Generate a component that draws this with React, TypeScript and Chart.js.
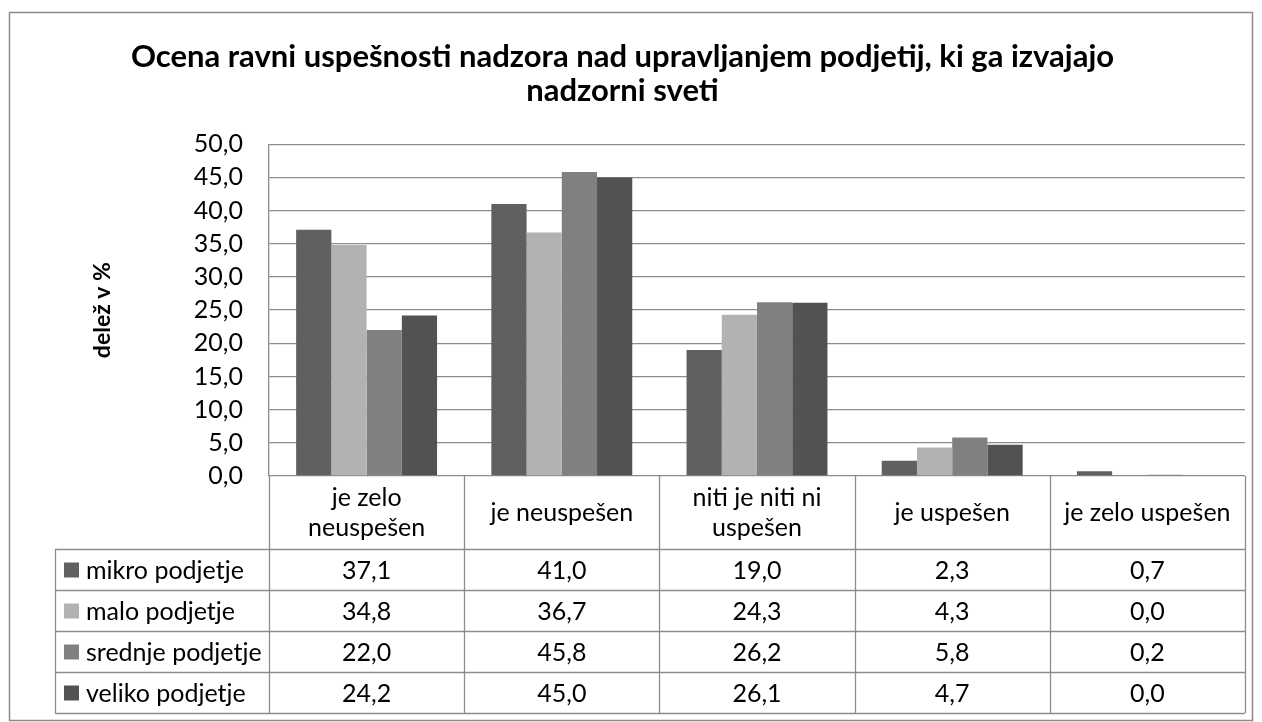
import React, { useEffect, useRef } from "react";
import { Chart, registerables } from "chart.js";

Chart.register(...registerables);

const TITLE_LINES = [
  "Ocena ravni uspešnosti nadzora nad upravljanjem podjetij, ki ga izvajajo",
  "nadzorni sveti",
];
const Y_TITLE = "delež v %";
const CATEGORIES: (string | string[])[] = [
  ["je zelo", "neuspešen"],
  "je neuspešen",
  ["niti je niti ni", "uspešen"],
  "je uspešen",
  "je zelo uspešen",
];
const SERIES_NAMES = ["mikro podjetje", "malo podjetje", "srednje podjetje", "veliko podjetje"];
const MIKRO = [37.1, 41.0, 19.0, 2.3, 0.7];
const MALO = [34.8, 36.7, 24.3, 4.3, 0.0];
const SREDNJE = [22.0, 45.8, 26.2, 5.8, 0.2];
const VELIKO = [24.2, 45.0, 26.1, 4.7, 0.0];
const SERIES_COLORS = ["#606060", "#b2b2b2", "#808080", "#525252"];
const Y_MIN = 0;
const Y_MAX = 50;
const Y_STEP = 5;

const FONT = "Lato, 'Open Sans', sans-serif";
const LINE = "#8c8c8c";

const fmt = (v: number) => v.toFixed(1).replace(".", ",");

const framePlugin = {
  id: "frame",
  beforeDraw(chart: any) {
    const { ctx, width, height } = chart;
    ctx.save();
    ctx.fillStyle = "#ffffff";
    ctx.fillRect(0, 0, width, height);
    ctx.strokeStyle = "#8a8a8a";
    ctx.lineWidth = 1.5;
    ctx.strokeRect(9.5, 12.5, width - 19, height - 14);
    ctx.restore();
  },
};

const tablePlugin = {
  id: "dataTable",
  afterDraw(chart: any) {
    const { ctx, chartArea } = chart;
    const xs = chart.scales.x;
    const n = CATEGORIES.length;
    const colW = (chartArea.right - chartArea.left) / n;
    const top = chartArea.bottom;
    const catBottom = top + 73;
    const rowH = 41;
    const legendLeft = 55;
    const rows = chart.data.datasets.length;
    const bottom = catBottom + rows * rowH;

    ctx.save();
    ctx.strokeStyle = LINE;
    ctx.lineWidth = 1.3;
    for (let i = 0; i <= n; i++) {
      const x = Math.round(xs.getPixelForValue(0) - colW / 2 + i * colW) + 0.5;
      ctx.beginPath();
      ctx.moveTo(x, top);
      ctx.lineTo(x, bottom);
      ctx.stroke();
    }
    ctx.beginPath();
    ctx.moveTo(legendLeft + 0.5, catBottom);
    ctx.lineTo(legendLeft + 0.5, bottom);
    ctx.stroke();
    for (let r = 0; r <= rows; r++) {
      const y = Math.round(catBottom + r * rowH) + 0.5;
      ctx.beginPath();
      ctx.moveTo(legendLeft, y);
      ctx.lineTo(chartArea.right, y);
      ctx.stroke();
    }

    ctx.fillStyle = "#000000";
    ctx.font = `25px ${FONT}`;
    ctx.textAlign = "center";
    ctx.textBaseline = "middle";
    for (let i = 0; i < n; i++) {
      const cx = xs.getPixelForValue(i);
      const lab = CATEGORIES[i];
      const lines = Array.isArray(lab) ? lab : [lab];
      const lh = 30;
      const cy = (top + catBottom) / 2;
      lines.forEach((t, k) => {
        ctx.fillText(t, cx, cy + (k - (lines.length - 1) / 2) * lh);
      });
    }
    chart.data.datasets.forEach((ds: any, r: number) => {
      const cy = catBottom + r * rowH + rowH / 2 + 1;
      ctx.textAlign = "center";
      ctx.fillStyle = "#000000";
      ds.data.forEach((v: number, i: number) => {
        ctx.fillText(fmt(v), xs.getPixelForValue(i), cy);
      });
      ctx.fillStyle = ds.backgroundColor;
      ctx.fillRect(legendLeft + 9, cy - 8, 15, 15);
      ctx.fillStyle = "#000000";
      ctx.textAlign = "left";
      ctx.fillText(ds.label, legendLeft + 31, cy);
    });
    ctx.restore();
  },
};

export default function App() {
  const ref = useRef<HTMLCanvasElement | null>(null);
  useEffect(() => {
    if (!ref.current) return;
    const data = [MIKRO, MALO, SREDNJE, VELIKO];
    const chart = new Chart(ref.current, {
      type: "bar",
      data: {
        labels: CATEGORIES.map((c) => (Array.isArray(c) ? c.join(" ") : c)),
        datasets: SERIES_NAMES.map((name, i) => ({
          label: name,
          data: data[i],
          backgroundColor: SERIES_COLORS[i],
          borderWidth: 0,
          barPercentage: 1,
          categoryPercentage: 0.722,
        })),
      },
      options: {
        animation: false,
        responsive: false,
        devicePixelRatio: 1,
        layout: { padding: { left: 0, right: 17, top: 0, bottom: 246 } },
        plugins: {
          legend: { display: false },
          tooltip: { enabled: false },
          title: {
            display: true,
            text: TITLE_LINES,
            color: "#000000",
            font: { family: FONT, size: 31, weight: "bold", lineHeight: 1.1 },
            padding: { top: 40, bottom: 36 },
          },
        },
        scales: {
          x: { display: false },
          y: {
            min: Y_MIN,
            max: Y_MAX,
            afterFit: (s: any) => {
              s.width = 269;
            },
            ticks: {
              stepSize: Y_STEP,
              padding: 26,
              color: "#000000",
              font: { family: FONT, size: 25 },
              callback: (v: any) => fmt(Number(v)),
            },
            grid: { color: LINE, lineWidth: 1.3, drawTicks: false },
            border: { display: true, color: LINE, width: 1.3 },
            title: {
              display: true,
              text: Y_TITLE,
              color: "#000000",
              font: { family: FONT, size: 23, weight: "bold", lineHeight: 1.2 },
              padding: { top: 89, bottom: 0 },
            },
          },
        },
      },
      plugins: [framePlugin, tablePlugin],
    });
    return () => chart.destroy();
  }, []);
  return (
    <div style={{ position: "absolute", left: 0, top: 0, width: 1262, height: 722 }}>
      <canvas ref={ref} width={1262} height={722} />
    </div>
  );
}
